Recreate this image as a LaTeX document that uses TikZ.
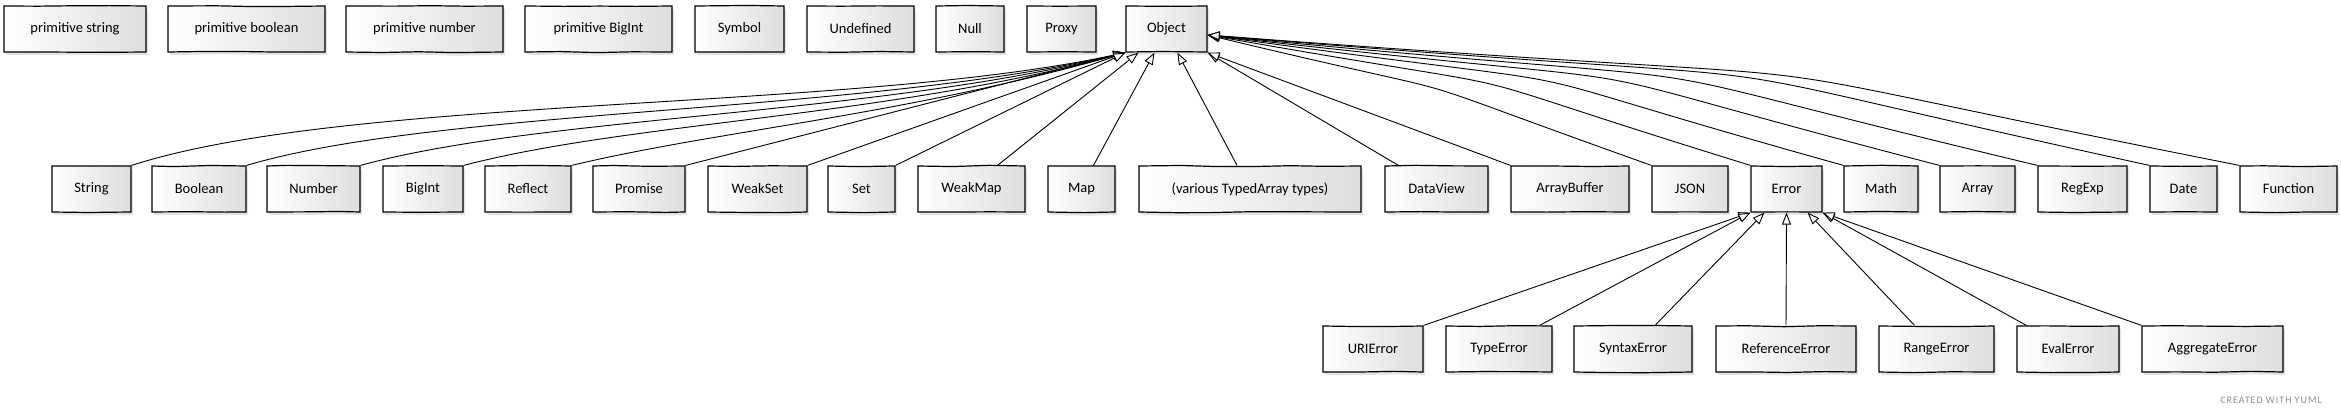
\documentclass[tikz,border=0pt]{standalone}
\usepackage{fontspec}
\setmainfont{Carlito}
\newfontfamily\creditfont[LetterSpace=10]{Carlito}
\usetikzlibrary{arrows.meta,shadows,decorations.pathmorphing}

\begin{document}
\begin{tikzpicture}[x=1pt,y=-1pt,
    box/.style={draw,line width=1.2pt,minimum height=46pt,inner sep=2pt,
      left color=white,right color=black!13,
      decorate,decoration={random steps,segment length=36pt,amplitude=0.7pt},
      drop shadow={shadow xshift=2pt,shadow yshift=-3pt,opacity=0.22},
      font=\fontsize{14.5}{16}\selectfont},
    gen/.style={line width=0.9pt,-{Triangle[length=12pt,width=9pt,fill=white]}}]
    \pgfmathsetseed{11}
    \useasboundingbox (0,0) rectangle (2341,415);
    % top row
    \node[box,minimum width=142pt] (pstr) at (75,29) {primitive string};
    \node[box,minimum width=157pt] (pbool) at (246.5,29) {primitive boolean};
    \node[box,minimum width=157pt] (pnum) at (424.5,29) {primitive number};
    \node[box,minimum width=147pt] (pbig) at (598.5,29) {primitive BigInt};
    \node[box,minimum width=89pt] (sym) at (739.5,29) {Symbol};
    \node[box,minimum width=107pt] (undef) at (860.5,29) {Undefined};
    \node[box,minimum width=68pt] (null) at (970,29) {Null};
    \node[box,minimum width=69pt] (proxy) at (1061.5,29) {Proxy};
    \node[box,minimum width=81pt] (obj) at (1166.5,29) {Object};
    % second row
    \node[box,minimum width=79pt] (str) at (91.5,189) {String};
    \node[box,minimum width=94pt] (bool) at (199,189) {Boolean};
    \node[box,minimum width=93pt] (num) at (313.5,189) {Number};
    \node[box,minimum width=80pt] (big) at (423,189) {BigInt};
    \node[box,minimum width=86pt] (refl) at (528,189) {Reflect};
    \node[box,minimum width=92pt] (prom) at (639,189) {Promise};
    \node[box,minimum width=99pt] (wset) at (757.5,189) {WeakSet};
    \node[box,minimum width=67pt] (set) at (861.5,189) {Set};
    \node[box,minimum width=107pt] (wmap) at (971.5,189) {WeakMap};
    \node[box,minimum width=67pt] (map) at (1081.5,189) {Map};
    \node[box,minimum width=222pt] (typed) at (1250,189) {(various TypedArray types)};
    \node[box,minimum width=103pt] (dview) at (1436.5,189) {DataView};
    \node[box,minimum width=118pt] (abuf) at (1570,189) {ArrayBuffer};
    \node[box,minimum width=76pt] (json) at (1690,189) {JSON};
    \node[box,minimum width=71pt] (err) at (1786.5,189) {Error};
    \node[box,minimum width=74pt] (math) at (1881,189) {Math};
    \node[box,minimum width=75pt] (arr) at (1977.5,189) {Array};
    \node[box,minimum width=89pt] (regex) at (2082.5,189) {RegExp};
    \node[box,minimum width=67pt] (date) at (2183.5,189) {Date};
    \node[box,minimum width=97pt] (func) at (2288.5,189) {Function};
    % error row
    \node[box,minimum width=100pt] (urierr) at (1373,349) {URIError};
    \node[box,minimum width=106pt] (typeerr) at (1499,349) {TypeError};
    \node[box,minimum width=118pt] (synerr) at (1633,349) {SyntaxError};
    \node[box,minimum width=140pt] (referr) at (1786,349) {ReferenceError};
    \node[box,minimum width=115pt] (rangeerr) at (1936.5,349) {RangeError};
    \node[box,minimum width=102pt] (evalerr) at (2068,349) {EvalError};
    \node[box,minimum width=141pt] (aggerr) at (2212.5,349) {AggregateError};
    \node[text=black!45,font=\creditfont\fontsize{10}{11}\selectfont] (credit) at (2271,400) {CREATED WITH YUML};
    % to Object, left side
    \draw[gen] (str.north east) .. controls (350,95) and (850,112) .. (obj.south west);
    \draw[gen] (bool.north east) .. controls (440,108) and (860,114) .. (obj.south west);
    \draw[gen] (num.north east) .. controls (540,116) and (870,116) .. (obj.south west);
    \draw[gen] (big.north east) .. controls (630,122) and (880,118) .. (obj.south west);
    \draw[gen] (refl.north east) .. controls (720,130) and (900,116) .. (obj.south west);
    \draw[gen] (prom.north east) -- (obj.south west);
    \draw[gen] (wset.north east) -- (obj.south west);
    \draw[gen] (set.north east) -- (obj.south west);
    \draw[gen] ([xshift=26pt]wmap.north) -- ([xshift=13pt]obj.south west);
    \draw[gen] ([xshift=12pt]map.north) -- ([xshift=29pt]obj.south west);
    \draw[gen] ([xshift=-13pt]typed.north) -- ([xshift=52pt]obj.south west);
    % to Object, right side
    \draw[gen] ([xshift=14pt]dview.north west) -- (obj.south east);
    \draw[gen] (abuf.north west) -- (obj.south east);
    \draw[gen] (json.north west) .. controls (1350,58) and (1520,110) .. ([yshift=-6pt]obj.east);
    \draw[gen] (err.north west) .. controls (1390,54) and (1600,104) .. ([yshift=-6pt]obj.east);
    \draw[gen] (math.north west) .. controls (1430,50) and (1680,100) .. ([yshift=-6pt]obj.east);
    \draw[gen] (arr.north west) .. controls (1480,46) and (1760,98) .. ([yshift=-6pt]obj.east);
    \draw[gen] (regex.north west) .. controls (1530,44) and (1840,96) .. ([yshift=-6pt]obj.east);
    \draw[gen] (date.north west) .. controls (1580,41) and (1930,95) .. ([yshift=-6pt]obj.east);
    \draw[gen] (func.north west) .. controls (1600,39) and (2000,95) .. ([yshift=-6pt]obj.east);
    % to Error
    \draw[gen] (urierr.north east) -- (err.south west);
    \draw[gen] ([xshift=-13pt]typeerr.north east) -- (err.south west);
    \draw[gen] ([xshift=22pt]synerr.north) -- ([xshift=14pt]err.south west);
    \draw[gen] (referr.north) -- (err.south);
    \draw[gen] ([xshift=-22pt]rangeerr.north) -- ([xshift=-15pt]err.south east);
    \draw[gen] ([xshift=10pt]evalerr.north west) -- (err.south east);
    \draw[gen] (aggerr.north west) -- (err.south east);
\end{tikzpicture}
\end{document}
